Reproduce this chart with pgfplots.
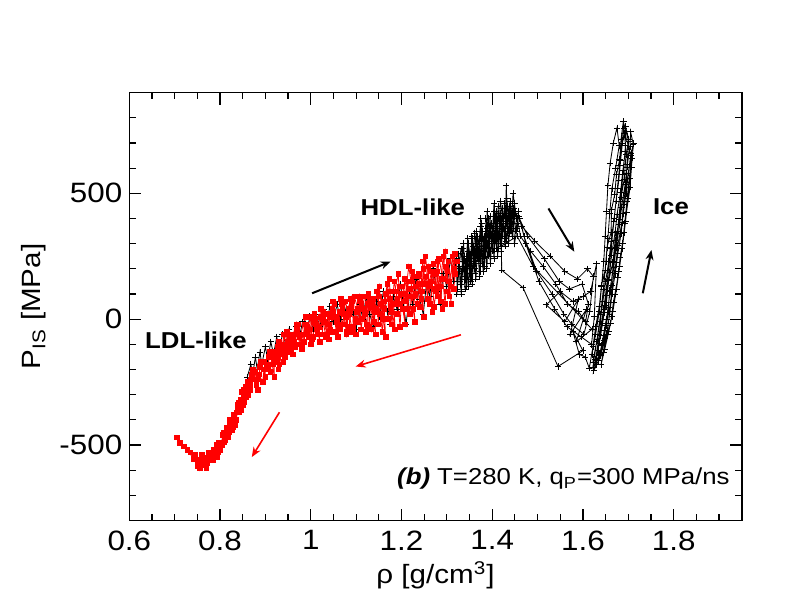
\documentclass[border=0pt]{standalone}
\usepackage{fontspec}
\setmainfont{Liberation Sans}[FakeStretch=1.12]
\usepackage{pgfplots}
\pgfplotsset{compat=1.18}
\usetikzlibrary{arrows.meta}
\begin{document}
\begin{tikzpicture}
\useasboundingbox (0,0) rectangle (396pt,306pt);
\begin{axis}[
  at={(64.65pt,45.75pt)}, anchor=south west,
  scale only axis, width=306.2pt, height=213.9pt,
  xmin=0.6, xmax=1.95, ymin=-800, ymax=900,
  xtick={0.6,0.8,1.0,1.2,1.4,1.6,1.8},
  xticklabels={0.6,0.8,1,1.2,1.4,1.6,1.8},
  minor xtick={0.65,0.7,0.75,0.85,0.9,0.95,1.05,1.1,1.15,1.25,1.3,1.35,1.45,1.5,1.55,1.65,1.7,1.75,1.85,1.9},
  ytick={-500,0,500}, yticklabels={-500,0,500},
  minor ytick={-700,-600,-400,-300,-200,-100,100,200,300,400,600,700,800},
  major tick length=6pt, minor tick length=3.3pt,
  tick align=inside,
  axis line style={line width=0.8pt},
  every tick/.style={black, line width=0.6pt},
  tick label style={font=\fontsize{14}{16}\selectfont},
  xticklabel style={yshift=-1.5pt},
  label style={font=\fontsize{13.2}{15}\selectfont},
  xlabel={ρ [g/cm\textsuperscript{3}]},
  ylabel={P\textsubscript{IS} [MPa]},
  xlabel style={at={(axis description cs:0.5,-0.1468)}, anchor=base},
  ylabel style={at={(axis description cs:-0.1447,0.5)}, anchor=base},
]
% black: compression run
\addplot[black, line width=0.42pt, mark=+, mark size=1.6pt, mark options={line width=0.4pt}] table {
x y
0.860 -230
0.868 -180
0.872 -220
0.878 -150
0.882 -200
0.888 -130
0.892 -180
0.900 -110
0.905 -160
0.912 -90
0.918 -140
0.925 -70
0.930 -120
0.938 -60
0.945 -100
0.952 -40
0.960 -90
0.968 -30
0.975 -70
0.982 -10
0.990 -60
0.998 10
1.005 -40
1.012 20
1.020 -30
1.028 40
1.035 -20
1.042 50
1.050 -10
1.058 60
1.065 0
1.072 70
1.080 10
1.088 80
1.095 20
1.100 -40
1.108 60
1.115 0
1.122 90
1.130 20
1.138 -30
1.145 70
1.152 10
1.160 110
1.168 30
1.175 -20
1.182 90
1.190 40
1.198 140
1.205 50
1.210 -20
1.218 100
1.225 60
1.232 160
1.240 80
1.248 20
1.255 140
1.262 90
1.270 200
1.278 110
1.285 60
1.292 180
1.300 130
1.308 240
1.315 150
1.320 240
1.323 120
1.326 260
1.329 150
1.332 100
1.335 280
1.338 170
1.341 230
1.344 130
1.347 300
1.350 200
1.353 150
1.356 320
1.359 230
1.362 180
1.365 350
1.368 240
1.371 300
1.374 190
1.377 380
1.380 270
1.383 210
1.386 400
1.389 300
1.392 250
1.395 410
1.398 320
1.401 270
1.404 430
1.407 330
1.410 280
1.413 450
1.416 350
1.419 300
1.422 440
1.425 360
1.428 320
1.431 530
1.434 380
1.437 340
1.440 470
1.443 400
1.446 360
1.449 460
1.452 420
1.455 380
1.458 430
1.452 350
1.448 420
1.444 330
1.440 400
1.436 300
1.432 420
1.428 290
1.424 390
1.420 270
1.416 380
1.412 250
1.408 370
1.404 240
1.400 350
1.396 220
1.392 340
1.388 200
1.384 330
1.380 190
1.376 310
1.372 170
1.368 290
1.364 160
1.360 280
1.356 140
1.352 260
1.348 130
1.344 250
1.340 120
1.336 230
1.332 110
1.328 210
1.333 190
1.338 250
1.343 160
1.348 270
1.353 210
1.358 290
1.363 220
1.368 330
1.373 250
1.378 350
1.383 280
1.388 360
1.393 300
1.398 380
1.403 310
1.408 400
1.413 330
1.418 420
1.423 350
1.428 440
1.433 370
1.438 450
1.443 380
1.448 440
1.453 400
1.458 410
1.455 360
1.449 300
1.446 440
1.441 350
1.437 410
1.431 310
1.427 460
1.422 330
1.419 390
1.414 280
1.409 430
1.405 300
1.401 360
1.396 250
1.391 400
1.387 280
1.383 330
1.378 220
1.374 370
1.369 260
1.364 300
1.361 200
1.355 330
1.351 180
1.346 230
1.341 160
1.337 300
1.331 140
1.327 200
1.322 100
1.326 180
1.331 280
1.335 200
1.342 210
1.346 320
1.352 240
1.357 200
1.361 340
1.366 280
1.371 240
1.375 400
1.381 310
1.385 250
1.389 430
1.394 340
1.399 300
1.404 460
1.409 360
1.414 320
1.418 470
1.423 400
1.428 350
1.432 480
1.437 410
1.442 370
1.446 500
1.451 430
1.456 400
1.462 330
1.485 270
1.512 210
1.540 140
1.566 60
1.590 30
1.606 -10
1.612 60
1.598 140
1.570 120
1.548 150
1.515 240
1.478 330
1.460 400
1.470 330
1.498 190
1.532 100
1.558 20
1.575 -20
1.602 -60
1.615 30
1.623 170
1.610 200
1.588 160
1.560 190
1.528 250
1.494 310
1.465 370
1.474 300
1.503 150
1.538 40
1.565 -30
1.596 -70
1.619 -100
1.625 10
1.630 220
1.617 110
1.600 90
1.578 70
1.550 110
1.519 57
1.560 -10
1.590 80
1.572 -60
1.608 40
1.585 -90
1.620 -40
1.490 210
1.455 330
1.420 290
1.421 195
1.468 125
1.545 -188
1.600 -125
1.578 -50
1.592 -140
1.605 -150
1.614 -195
1.622 -110
1.628 -30
1.636 50
1.641 135
1.649 195
1.653 285
1.662 345
1.663 435
1.670 495
1.674 575
1.681 635
1.684 715
1.689 785
1.701 705
1.697 615
1.696 545
1.689 455
1.686 385
1.677 295
1.673 225
1.664 135
1.661 65
1.651 -25
1.646 -85
1.634 -165
1.641 -105
1.647 -45
1.656 45
1.659 115
1.668 205
1.673 285
1.681 375
1.685 445
1.693 535
1.697 605
1.704 685
1.705 745
1.711 695
1.707 605
1.704 525
1.696 425
1.691 345
1.682 245
1.677 165
1.667 65
1.661 -15
1.649 -75
1.639 -145
1.624 -205
1.633 -125
1.639 -65
1.647 25
1.651 95
1.659 185
1.663 255
1.671 345
1.675 415
1.683 505
1.687 575
1.693 665
1.694 765
1.701 715
1.695 655
1.691 555
1.684 485
1.681 395
1.671 315
1.666 225
1.657 155
1.651 55
1.642 -15
1.636 -95
1.628 -160
1.636 -60
1.646 40
1.654 160
1.662 280
1.669 400
1.676 520
1.681 610
1.686 700
1.690 760
1.694 690
1.689 590
1.683 470
1.676 350
1.668 230
1.660 110
1.652 0
1.644 -100
1.637 -140
1.622 -190
1.630 -90
1.638 -10
1.644 70
1.650 150
1.657 230
1.662 310
1.668 390
1.673 470
1.679 550
1.683 630
1.687 700
1.692 740
1.706 650
1.703 560
1.699 480
1.694 390
1.688 300
1.681 210
1.674 120
1.666 30
1.657 -50
1.648 -120
1.640 -180
1.645 -130
1.652 -60
1.659 20
1.664 100
1.671 180
1.677 260
1.684 340
1.689 420
1.695 500
1.700 580
1.706 660
1.712 700
1.708 640
1.702 560
1.697 470
1.692 380
1.686 280
1.679 190
1.671 100
1.664 10
1.654 -60
1.645 -130
1.630 -180
1.620 -140
1.628 -60
1.636 30
1.641 130
1.646 230
1.649 330
1.652 430
1.655 530
1.660 620
1.667 700
1.675 760
1.680 690
1.672 600
1.664 520
1.659 420
1.655 320
1.651 230
1.645 120
1.639 20
1.631 -80
1.622 -170
};
% red: decompression runs
\addplot[red, line width=0.4pt, mark=square*, mark size=1.15pt, mark options={fill=red, draw=red}] table {
x y
1.322 230
1.315 120
1.318 260
1.305 150
1.310 60
1.298 210
1.300 110
1.292 250
1.285 130
1.290 40
1.278 190
1.280 90
1.270 220
1.265 150
1.268 30
1.255 170
1.258 80
1.248 200
1.245 110
1.250 10
1.238 140
1.235 60
1.228 170
1.225 90
1.230 -10
1.218 120
1.212 40
1.215 150
1.205 70
1.208 -20
1.198 100
1.190 20
1.195 130
1.183 60
1.186 -40
1.175 80
1.170 0
1.172 110
1.162 40
1.165 -70
1.155 60
1.148 -20
1.150 90
1.140 30
1.143 -60
1.132 50
1.128 -30
1.130 80
1.120 20
1.122 -50
1.112 60
1.105 -10
1.108 70
1.098 0
1.100 -60
1.090 50
1.085 -30
1.088 80
1.078 10
1.080 -50
1.070 40
1.065 -40
1.068 60
1.058 -10
1.060 -70
1.050 30
1.045 -50
1.048 40
1.038 -20
1.040 -80
1.030 20
1.025 -60
1.028 30
1.018 -30
1.020 -90
1.010 0
1.005 -70
1.008 20
0.998 -40
1.000 -100
0.990 -20
0.985 -90
0.988 10
0.978 -60
0.980 -120
0.970 -40
0.965 -110
0.968 -20
0.958 -80
0.960 -140
0.950 -60
0.945 -130
0.948 -50
0.938 -100
0.940 -170
0.930 -90
0.925 -160
0.928 -110
0.918 -130
0.920 -230
0.910 -130
0.905 -200
0.908 -150
0.898 -170
0.900 -230
0.890 -170
0.885 -240
0.888 -190
0.878 -210
0.880 -260
0.870 -220
0.866 -280
0.868 -240
0.860 -250
0.858 -310
0.852 -280
0.850 -340
0.855 -300
0.845 -320
0.842 -370
0.838 -340
0.835 -400
0.840 -360
0.830 -380
0.828 -430
0.822 -400
0.820 -450
0.825 -420
0.815 -430
0.812 -480
0.808 -450
0.805 -500
0.810 -470
0.800 -490
0.796 -530
0.792 -500
0.788 -540
0.795 -510
0.785 -520
0.780 -560
0.776 -530
0.772 -570
0.778 -545
0.768 -550
0.764 -580
0.760 -540
0.756 -590
0.762 -560
0.750 -570
0.745 -545
0.735 -530
0.720 -505
0.705 -470
0.712 -492
0.728 -520
0.742 -555
0.750 -585
};
\addplot[red, line width=0.4pt, mark=square*, mark size=1.15pt, mark options={fill=red, draw=red}] table {
x y
1.318 180
1.312 250
1.306 90
1.301 190
1.297 270
1.289 160
1.287 70
1.279 230
1.274 120
1.271 180
1.263 60
1.259 210
1.251 140
1.247 230
1.240 50
1.236 170
1.231 100
1.224 190
1.219 20
1.214 90
1.207 160
1.203 40
1.196 60
1.193 180
1.185 110
1.179 -20
1.176 50
1.169 140
1.161 70
1.158 -50
1.153 20
1.146 110
1.139 -10
1.136 60
1.127 100
1.124 -20
1.117 40
1.111 -40
1.107 90
1.101 30
1.094 -30
1.091 70
1.083 40
1.079 -60
1.073 20
1.067 80
1.062 -30
1.055 10
1.052 60
1.043 -40
1.039 20
1.033 -70
1.027 0
1.022 40
1.015 -60
1.011 -20
1.003 -80
0.999 10
0.993 -50
0.986 -20
0.982 -110
0.975 -70
0.972 -20
0.963 -90
0.957 -130
0.953 -70
0.946 -110
0.941 -60
0.935 -140
0.931 -180
0.927 -130
0.921 -170
0.914 -150
0.911 -210
0.903 -180
0.897 -200
0.894 -250
0.886 -220
0.883 -280
0.876 -240
0.873 -200
0.867 -260
0.862 -300
0.857 -270
0.853 -330
0.848 -290
0.846 -360
0.842 -330
0.836 -370
0.833 -420
0.831 -390
0.826 -440
0.821 -410
0.818 -470
0.814 -450
0.809 -490
0.806 -460
0.801 -520
0.797 -490
0.793 -550
0.788 -520
0.784 -560
0.781 -530
0.774 -550
0.770 -590
0.766 -560
0.758 -575
0.752 -560
0.746 -540
};
\addplot[red, line width=0.4pt, mark=square*, mark size=1.15pt, mark options={fill=red, draw=red}] table {
x y
1.316 200
1.309 130
1.303 230
1.296 60
1.291 160
1.283 240
1.276 110
1.272 50
1.266 190
1.260 130
1.253 250
1.244 80
1.239 180
1.232 130
1.226 40
1.221 150
1.216 210
1.209 100
1.201 130
1.197 -30
1.191 80
1.184 150
1.178 30
1.173 160
1.166 100
1.159 0
1.151 130
1.145 40
1.137 80
1.133 -40
1.125 60
1.118 90
1.113 0
1.104 40
1.096 90
1.093 -50
1.084 20
1.076 70
1.071 -20
1.063 30
1.056 -50
1.049 70
1.041 10
1.036 -60
1.029 -10
1.021 10
1.013 -40
1.006 -10
0.996 -70
0.991 -30
0.984 -60
0.976 -100
0.971 -60
0.962 -60
0.955 -110
0.949 -90
0.943 -150
0.936 -120
0.929 -200
0.924 -140
0.916 -180
};
% arrows
\draw[black, line width=1pt, -{Stealth[length=5pt,width=4pt]}] (axis cs:1.003,103) -- (axis cs:1.176,229);
\draw[black, line width=1pt, -{Stealth[length=5pt,width=4pt]}] (axis cs:1.524,440) -- (axis cs:1.581,268);
\draw[black, line width=1pt, -{Stealth[length=5pt,width=4pt]}] (axis cs:1.732,103) -- (axis cs:1.751,275);
\draw[red, line width=0.8pt, -{Stealth[length=5pt,width=4pt]}] (axis cs:1.331,-62) -- (axis cs:1.099,-188);
\draw[red, line width=0.8pt, -{Stealth[length=5pt,width=4pt]}] (axis cs:0.931,-370) -- (axis cs:0.870,-548);
% labels
\node[font=\bfseries\fontsize{11.5}{13}\selectfont] at (axis cs:1.225,443) {HDL-like};
\node[font=\bfseries\fontsize{11.5}{13}\selectfont] at (axis cs:0.747,-85) {LDL-like};
\node[font=\bfseries\fontsize{11.5}{13}\selectfont] at (axis cs:1.794,446) {Ice};
\node[anchor=base east, inner sep=0pt, font=\fontsize{11.5}{13}\selectfont] at (axis cs:1.924,-658) {\textbf{\textit{(b)}} T=280 K, q\textsubscript{P}=300 MPa/ns};
\end{axis}
\end{tikzpicture}
\end{document}
